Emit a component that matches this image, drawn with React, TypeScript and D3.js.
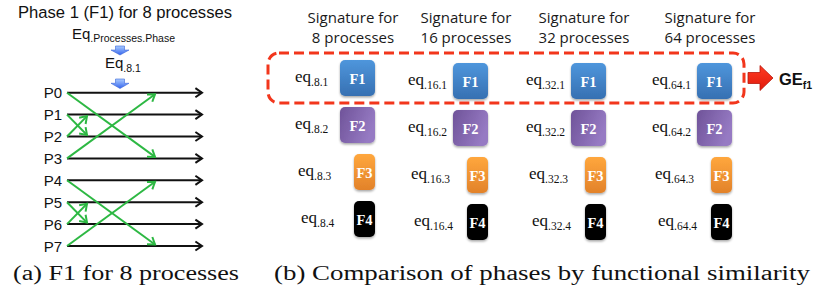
import React from "react";
import * as d3 from "d3";

// ---------- data ----------
const processCounts = [8, 16, 32, 64];
const phases = ["F1", "F2", "F3", "F4"];
const phaseNumbers = [1, 2, 3, 4];
const leftProcesses = ["P0", "P1", "P2", "P3", "P4", "P5", "P6", "P7"];
const exchanges: [number, number][] = [
  [0, 3], [3, 0], [1, 2], [2, 1], [4, 7], [7, 4], [5, 6], [6, 5],
];
const headerLine1 = "Signature for";
const headerLine2Suffix = "processes";
const leftTitle = "Phase 1 (F1) for 8 processes";
const flowMain = "Eq";
const flowGeneric = ".Processes.Phase";
const flowSpecific = ".8.1";
const resultMain = "GE";
const resultSub = "f1";
const captionA = "(a) F1 for 8 processes";
const captionB = "(b) Comparison of phases by functional similarity";

function chevron(x: number, y: number, angle: number, len: number, spread: number) {
  const a1 = angle + Math.PI - spread;
  const a2 = angle + Math.PI + spread;
  return `M${x + len * Math.cos(a1)},${y + len * Math.sin(a1)}L${x},${y}L${x + len * Math.cos(a2)},${y + len * Math.sin(a2)}`;
}

export default function App() {
  const W = 815, H = 292;

  // right panel layout scales
  const colX = d3.scaleOrdinal<number, number>().domain(processCounts).range([375, 488, 606, 732]);
  const colDy = d3.scaleOrdinal<number, number>().domain(processCounts).range([-3, 0, 0, 0]);
  const rowY = d3.scalePoint<string>().domain(phases).range([81, 222]);
  const boxW = d3.scaleOrdinal<string, number>().domain(phases).range([35, 35, 21, 21]);
  const labelShift = d3.scaleOrdinal<string, number>().domain(phases).range([0, 0, 3, 6]);
  const boxFill = d3
    .scaleOrdinal<string, string>()
    .domain(phases)
    .range(["url(#gBlue)", "url(#gPurple)", "url(#gOrange)", "#030303"]);
  const boxH = 36;

  // left panel scales
  const procY = d3.scalePoint<string>().domain(leftProcesses).range([92.7, 246]);
  const lineX0 = 67, lineX1 = 202;
  const spanX = d3.scaleLinear().domain([1, 3]).range([87, 155]);

  const firstN = processCounts[0];
  const lastN = processCounts[processCounts.length - 1];
  const dashL = colX(firstN) - 107;
  const dashR = colX(lastN) + 12;
  const dashT = rowY(phases[0])! - 28;
  const dashB = rowY(phases[0])! + 22;
  const arrowCY = rowY(phases[0])! - 3;

  const blueArrow = (cx: number, top: number, bottom: number) => {
    const mid = top + (bottom - top) * 0.45;
    return `M${cx - 4.5},${top}L${cx + 4.5},${top}L${cx + 4.5},${mid}L${cx + 9},${mid}L${cx},${bottom}L${cx - 9},${mid}L${cx - 4.5},${mid}Z`;
  };

  const ax = dashR + 4;
  const redArrow = `M${ax},${arrowCY - 5.5}L${ax + 12},${arrowCY - 5.5}L${ax + 12},${arrowCY - 12.5}L${ax + 25},${arrowCY}L${ax + 12},${arrowCY + 12.5}L${ax + 12},${arrowCY + 5.5}L${ax},${arrowCY + 5.5}Z`;

  return (
    <svg width={W} height={H} style={{ position: "absolute", left: 0, top: 0, background: "#fff" }}>
      <defs>
        <linearGradient id="gBlue" x1="0" y1="0" x2="0" y2="1">
          <stop offset="0" stopColor="#4f96dc" />
          <stop offset="1" stopColor="#3670b2" />
        </linearGradient>
        <linearGradient id="gPurple" x1="0" y1="0" x2="1" y2="0.4">
          <stop offset="0" stopColor="#6f5399" />
          <stop offset="1" stopColor="#967ac3" />
        </linearGradient>
        <linearGradient id="gOrange" x1="0" y1="0" x2="0" y2="1">
          <stop offset="0" stopColor="#ffa73d" />
          <stop offset="1" stopColor="#e2822a" />
        </linearGradient>
        <linearGradient id="gArrow" x1="0" y1="0" x2="0" y2="1">
          <stop offset="0" stopColor="#a9cbff" />
          <stop offset="1" stopColor="#3565ee" />
        </linearGradient>
        <linearGradient id="gRed" x1="0" y1="0" x2="0" y2="1">
          <stop offset="0" stopColor="#ff3a22" />
          <stop offset="1" stopColor="#e01a0c" />
        </linearGradient>
        <filter id="sh" x="-30%" y="-30%" width="160%" height="170%">
          <feDropShadow dx="0" dy="1.5" stdDeviation="1.2" floodColor="#000" floodOpacity="0.35" />
        </filter>
      </defs>

      {/* ---------- left panel ---------- */}
      <text
        x={18}
        y={18}
        fontFamily="Liberation Sans, Arial, sans-serif"
        fontSize={16.3}
        fill="#111"
        textLength={214}
        lengthAdjust="spacingAndGlyphs"
      >
        {leftTitle}
      </text>
      <text x={72} y={39} fontFamily="Liberation Sans, Arial, sans-serif" fontSize={15} fill="#111">
        {flowMain}
        <tspan fontSize={10.5} dy={2.5}>{flowGeneric}</tspan>
      </text>
      <path d={blueArrow(120, 46, 55)} fill="url(#gArrow)" stroke="#3a67d8" strokeWidth={0.6} />
      <text x={105} y={68} fontFamily="Liberation Sans, Arial, sans-serif" fontSize={15} fill="#111">
        {flowMain}
        <tspan fontSize={10.5} dy={3.5}>{flowSpecific}</tspan>
      </text>
      <path d={blueArrow(120, 79, 88.5)} fill="url(#gArrow)" stroke="#3a67d8" strokeWidth={0.6} />

      {leftProcesses.map((p) => {
        const y = procY(p)!;
        return (
          <g key={p}>
            <text
              x={62}
              y={y + 5.5}
              textAnchor="end"
              fontFamily="Liberation Sans, Arial, sans-serif"
              fontSize={15}
              fill="#111"
            >
              {p}
            </text>
            <line x1={lineX0} y1={y} x2={lineX1} y2={y} stroke="#111" strokeWidth={2} />
            <path d={chevron(lineX1, y, 0, 8, 0.6)} fill="none" stroke="#111" strokeWidth={2} />
          </g>
        );
      })}

      {exchanges.map(([s, t], i) => {
        const ys = procY(leftProcesses[s])!;
        const yt = procY(leftProcesses[t])!;
        const sign = Math.sign(yt - ys);
        const xe = spanX(Math.abs(t - s));
        const ye = yt - sign * 1.5;
        const ang = Math.atan2(ye - ys, xe - lineX0);
        return (
          <g key={i}>
            <line x1={lineX0} y1={ys} x2={xe} y2={ye} stroke="#2db843" strokeWidth={2} />
            <path d={chevron(xe, ye, ang, 8, 0.6)} fill="none" stroke="#2db843" strokeWidth={2} />
          </g>
        );
      })}

      {/* ---------- right panel ---------- */}
      {processCounts.map((n) => {
        const cx = colX(n) - 22;
        return (
          <g key={`h${n}`} fontFamily="Open Sans, sans-serif" fontSize={15} fill="#1a1a1a" textAnchor="middle">
            <text x={cx} y={22.5}>{headerLine1}</text>
            <text x={cx} y={43}>{`${n} ${headerLine2Suffix}`}</text>
          </g>
        );
      })}

      {processCounts.map((n) =>
        phases.map((p, pi) => {
          const cy = rowY(p)! + colDy(n);
          const w = boxW(p);
          const right = colX(n);
          return (
            <g key={`${n}-${p}`}>
              <text
                x={right - 80 + labelShift(p)}
                y={cy + 4}
                fontFamily="Liberation Serif, Times New Roman, serif"
                fontSize={17}
                fill="#111"
              >
                eq
                <tspan fontSize={11.5} dy={4}>{`.${n}.${phaseNumbers[pi]}`}</tspan>
              </text>
              <rect
                x={right - w}
                y={cy - boxH / 2}
                width={w}
                height={boxH}
                rx={5}
                fill={boxFill(p)}
                filter="url(#sh)"
              />
              <text
                x={right - w / 2}
                y={cy + 5.5}
                textAnchor="middle"
                fontFamily="Liberation Serif, Times New Roman, serif"
                fontWeight="bold"
                fontSize={14.5}
                fill="#fff"
              >
                {p}
              </text>
            </g>
          );
        })
      )}

      <rect
        x={dashL}
        y={dashT}
        width={dashR - dashL}
        height={dashB - dashT}
        rx={11}
        fill="none"
        stroke="#f2361c"
        strokeWidth={3}
        strokeDasharray="10 5"
      />
      <path d={redArrow} fill="url(#gRed)" stroke="#b8170b" strokeWidth={0.8} />
      <text x={779} y={arrowCY + 6.5} fontFamily="Liberation Sans, Arial, sans-serif" fontWeight="bold" fontSize={16.5} fill="#111">
        {resultMain}
        <tspan fontSize={10.5} dy={4}>{resultSub}</tspan>
      </text>

      {/* ---------- captions ---------- */}
      <text
        x={13}
        y={280}
        fontFamily="Liberation Serif, Times New Roman, serif"
        fontSize={20}
        fill="#111"
        textLength={226}
        lengthAdjust="spacingAndGlyphs"
      >
        {captionA}
      </text>
      <text
        x={274}
        y={280}
        fontFamily="Liberation Serif, Times New Roman, serif"
        fontSize={20}
        fill="#111"
        textLength={536}
        lengthAdjust="spacingAndGlyphs"
      >
        {captionB}
      </text>
    </svg>
  );
}
